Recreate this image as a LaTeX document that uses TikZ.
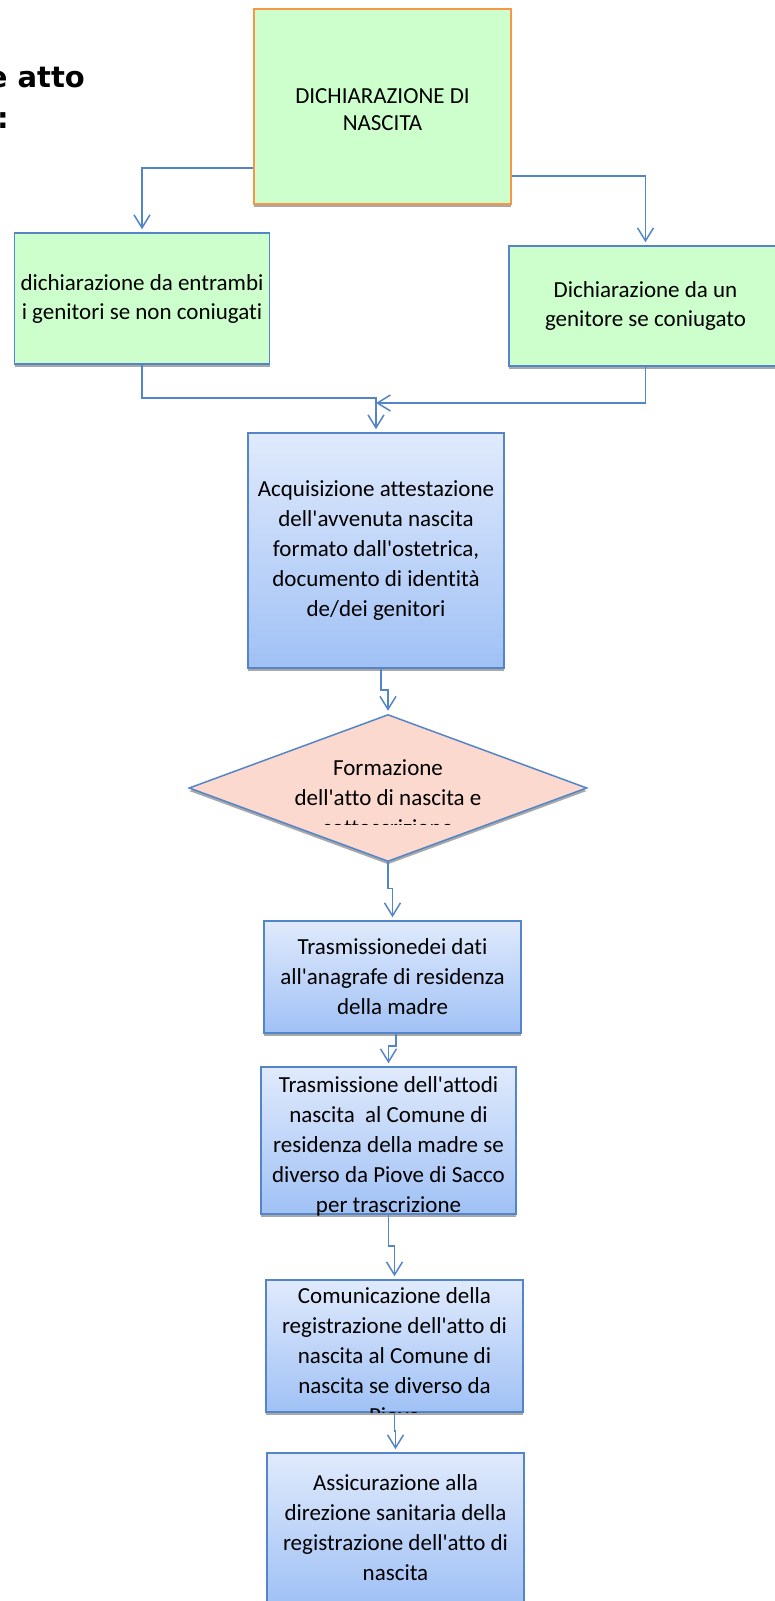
\documentclass[tikz,border=0pt]{standalone}
\usepackage{fontspec}
\newfontfamily\boxfont{Carlito}[Ligatures={TeXOff,CommonOff}]
\newfontfamily\titlefont{DejaVu Sans}
\usetikzlibrary{shapes.geometric, arrows.meta, calc, shadows}

\definecolor{grnfill}{RGB}{204,255,204}
\definecolor{orgline}{RGB}{247,150,70}
\definecolor{bluline}{RGB}{84,133,200}
\definecolor{blutop}{RGB}{224,234,252}
\definecolor{blubot}{RGB}{160,193,245}
\definecolor{pchfill}{RGB}{251,217,206}

\begin{document}
\begin{tikzpicture}[
  x=1pt,y=-1pt,
  shd/.style={drop shadow={shadow xshift=0pt,shadow yshift=-3pt,fill=gray!75,opacity=0.9}},
  grn/.style={rectangle,draw=bluline,line width=1.5pt,fill=grnfill,shd,align=center,inner sep=0pt,font=\boxfont\fontsize{23}{29}\selectfont},
  blu/.style={rectangle,draw=bluline,line width=1.5pt,top color=blutop,bottom color=blubot,shd,align=center,inner sep=0pt,font=\boxfont\fontsize{23}{30}\selectfont},
  txt/.style={align=center,inner sep=0pt,font=\boxfont\fontsize{23}{30}\selectfont},
  dec/.style={diamond,draw=bluline,line width=1.5pt,fill=pchfill,shd,inner sep=0pt,minimum width=398pt,minimum height=147pt},
  conn/.style={-{Straight Barb[length=13pt,width=16pt]},line width=1.5pt,bluline,shorten >=3pt},
  ttl/.style={font=\titlefont\bfseries\fontsize{29}{41}\selectfont,inner sep=0pt}
]
  \useasboundingbox (0,0) rectangle (775,1601);

  % title, cut at the left edge
  \node[ttl,anchor=base east] (ttl1) at (85,87) {e atto};
  \node[ttl,anchor=base east] (ttl2) at (9,128) {:};

  \node[grn,draw=orgline,line width=2pt,minimum width=257pt,minimum height=195pt] (dich) at (382.5,106.5) {};
  \node[txt,font=\boxfont\fontsize{23}{27}\selectfont] (dichtxt) at (382.5,109.5) {DICHIARAZIONE DI\\NASCITA};
  \node[grn,minimum width=255pt,minimum height=131pt] (entr) at (142,298.5) {dichiarazione da entrambi\\i genitori se non coniugati};
  \node[grn,minimum width=273pt,minimum height=120pt] (coniu) at (645.5,306) {Dichiarazione da un\\genitore se coniugato};

  \node[blu,minimum width=256pt,minimum height=235pt] (acq) at (376,550.5) {Acquisizione attestazione\\dell'avvenuta nascita\\formato dall'ostetrica,\\documento di identità\\de/dei genitori};

  \node[dec] (dia) at (388,788) {};
  \begin{scope}
    \clip ($(dia.west)+(0,-80)$) rectangle ($(dia.east)+(0,36)$);
    \node[txt] (diatxt) at (388,798) {Formazione\\dell'atto di nascita e\\sottoscrizione};
  \end{scope}

  \node[blu,minimum width=257pt,minimum height=112pt] (trd) at (392.5,977) {Trasmissionedei dati\\all'anagrafe di residenza\\della madre};
  \node[blu,minimum width=255pt,minimum height=147pt] (tra) at (388.5,1140.5) {};
  \node[txt] (tratxt) at (388.5,1146) {Trasmissione dell'attodi\\nascita~~al Comune di\\residenza della madre se\\diverso da Piove di Sacco\\per trascrizione};

  \node[blu,minimum width=257pt,minimum height=132pt] (com) at (394.5,1346) {};
  \begin{scope}
    \clip (com.north west) rectangle (com.south east);
    \node[txt] (comtxt) at (394.5,1356) {Comunicazione della\\registrazione dell'atto di\\nascita al Comune di\\nascita se diverso da\\Piove};
  \end{scope}

  \node[blu,minimum width=257pt,minimum height=150pt] (ass) at (395.5,1528) {Assicurazione alla\\direzione sanitaria della\\registrazione dell'atto di\\nascita};

  % connectors
  \coordinate (mrg) at (376,398);
  \draw[conn] ($(dich.west)+(0,61.5)$) -| (entr.north);
  \draw[conn] ($(dich.east)+(0,69.5)$) -| (coniu.north);
  \draw[conn] (entr.south) |- (mrg) -- (acq.north);
  \draw[conn,shorten >=0pt] (coniu.south) |- ($(mrg)+(0,5)$);
  \draw[conn] ($(acq.south)+(5,0)$) -- ++(0,21) -| (dia.north);
  \draw[conn] (dia.south) -- ++(0,26) -| (trd.north);
  \draw[conn] ($(trd.south)+(3.5,0)$) -- ++(0,12) -| (tra.north);
  \draw[conn] (tra.south) -- ++(0,31) -| (com.north);
  \draw[conn] (com.south) -- ++(0,18) -| (ass.north);
\end{tikzpicture}
\end{document}
